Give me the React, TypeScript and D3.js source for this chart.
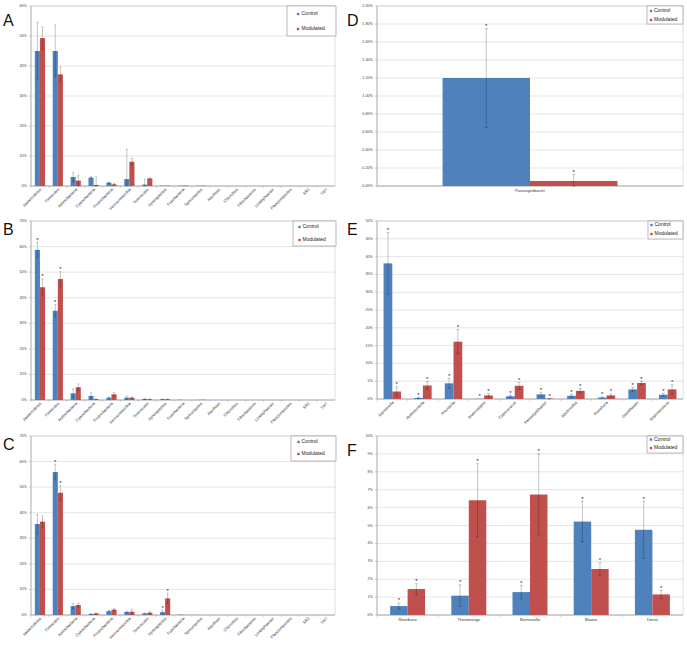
import React from 'react';
import * as d3 from 'd3';

const BLUE = '#4f81bd';
const RED = '#c0504d';
const FONT = 'Liberation Sans, Arial, sans-serif';

const seriesNames = ['Control', 'Modulated'];

// Phylum level (A, B, C)
const phyla = [
  'Bacteroidetes', 'Firmicutes', 'Actinobacteria', 'Cyanobacteria', 'Proteobacteria',
  'Verrucomicrobia', 'Tenericutes', 'Synergistetes', 'Fusobacteria', 'Spirochaetes',
  'Aquificae', 'Chloroflexi', 'Fibrobacteres', 'Lentisphaerae', 'Planctomycetes', 'SR1', 'TM7',
];
const percentTicks70 = [0, 10, 20, 30, 40, 50, 60, 70];
const percentTicks60 = [0, 10, 20, 30, 40, 50, 60];

const aControl = [45, 45, 3.0, 2.8, 1.1, 2.3, 0.45, 0.1, 0.1, 0.05, 0, 0, 0, 0, 0, 0, 0];
const aControlErr = [9.5, 8.7, 1.5, 0.3, 0.25, 10, 1.8, 0, 0, 0, 0, 0, 0, 0, 0, 0, 0];
const aModulated = [49.3, 37.2, 1.8, 0.35, 0.55, 8.1, 2.5, 0.1, 0.15, 0.1, 0, 0, 0, 0, 0, 0, 0];
const aModulatedErr = [3.7, 2.5, 1.8, 2.7, 0.25, 1.1, 0.2, 0, 0, 0, 0, 0, 0, 0, 0, 0, 0];

const bControl = [58.7, 34.9, 2.6, 1.6, 0.9, 0.9, 0.4, 0.3, 0.1, 0.05, 0, 0, 0, 0, 0, 0, 0];
const bControlErr = [3.0, 2.5, 1.7, 1.3, 0.3, 0.6, 0.1, 0.05, 0, 0, 0, 0, 0, 0, 0, 0, 0];
const bModulated = [44.1, 47.3, 5.0, 0.3, 2.2, 0.9, 0.3, 0.3, 0, 0.1, 0, 0, 0, 0, 0, 0, 0];
const bModulatedErr = [3.3, 2.9, 1.3, 0.1, 0.7, 0.3, 0.1, 0.05, 0, 0, 0, 0, 0, 0, 0, 0, 0];
const bControlStar = [true, true, false, false, false, false, false, false, false, false, false, false, false, false, false, false, false];
const bModulatedStar = [true, true, false, false, false, false, false, false, false, false, false, false, false, false, false, false, false];

const cControl = [35.6, 55.9, 3.5, 0.4, 1.5, 1.2, 0.6, 1.1, 0.15, 0.05, 0, 0, 0, 0, 0, 0, 0];
const cControlErr = [3.8, 3.1, 1.0, 0.1, 0.3, 0.3, 0.2, 0.8, 0, 0, 0, 0, 0, 0, 0, 0, 0];
const cModulated = [36.5, 47.8, 3.9, 0.6, 2.1, 1.3, 0.9, 6.5, 0.05, 0, 0, 0, 0, 0, 0, 0, 0];
const cModulatedErr = [2.2, 2.8, 0.8, 0.1, 0.4, 0.9, 0.4, 2.0, 0, 0, 0, 0, 0, 0, 0, 0, 0];
const cControlStar = [false, true, false, false, false, false, false, true, false, false, false, false, false, false, false, false, false];
const cModulatedStar = [false, true, false, false, false, false, false, true, false, false, false, false, false, false, false, false, false];

// D
const dGenera = ['Parasegetibacter'];
const dTicks = [0, 0.2, 0.4, 0.6, 0.8, 1.0, 1.2, 1.4, 1.6, 1.8, 2.0];
const dControl = [1.2];
const dControlErr = [0.55];
const dModulated = [0.056];
const dModulatedErr = [0.075];
const dStar = [true];

// E
const eGenera = [
  'Barnesiella', 'Robinsoniella', 'Prevotella', 'Anaerostipes', 'Coprococcus',
  'Parasegetibacter', 'Bacteroides', 'Roseburia', 'Oscillibacter', 'Anaerotruncus',
];
const eTicks = [0, 5, 10, 15, 20, 25, 30, 35, 40, 45, 50];
const eControl = [38.1, 0.3, 4.4, 0.05, 0.75, 1.3, 0.9, 0.4, 2.7, 1.2];
const eControlErr = [8.7, 0.2, 1.4, 0, 0.3, 0.6, 0.4, 0.2, 0.6, 0.4];
const eModulated = [2.1, 3.8, 16.1, 1.0, 3.7, 0.1, 2.3, 1.0, 4.5, 2.7];
const eModulatedErr = [1.3, 1.1, 3.4, 0.5, 1.0, 0.05, 0.6, 0.4, 0.5, 1.3];
const eStar = [true, true, true, true, true, true, true, true, true, true];

// F
const fGenera = ['Roseburia', 'Thermovirga', 'Barnesiella', 'Blautia', 'Dorea'];
const fTicks = [0, 1, 2, 3, 4, 5, 6, 7, 8, 9, 10];
const fControl = [0.5, 1.08, 1.28, 5.22, 4.76];
const fControlErr = [0.17, 0.6, 0.37, 1.14, 1.6];
const fModulated = [1.45, 6.41, 6.73, 2.57, 1.15];
const fModulatedErr = [0.3, 2.04, 2.27, 0.36, 0.23];
const fStar = [true, true, true, true, true];

type Legend = { x0: number; y0: number; x1: number; y1: number; rows: number[]; markerX: number; textX: number; size: number };

type PanelProps = {
  letter: string;
  letterX: number;
  letterY: number;
  left: number;
  right: number;
  top: number;
  bottom: number;
  ticks: number[];
  fmt: (v: number) => string;
  categories: string[];
  values: number[][];
  errors: number[][];
  stars: boolean[][];
  rotate: boolean;
  capHalf: number;
  legend: Legend;
};

function Panel(p: PanelProps) {
  const yMax = p.ticks[p.ticks.length - 1];
  const y = d3.scaleLinear().domain([0, yMax]).range([p.bottom, p.top]);
  const x = d3
    .scaleBand<string>()
    .domain(p.categories)
    .range([p.left, p.right])
    .paddingInner(0.4286)
    .paddingOuter(0.2143);
  const sub = d3.scaleBand<string>().domain(seriesNames).range([0, x.bandwidth()]);
  const colors = [BLUE, RED];
  const step = x.step();

  return (
    <g fontFamily={FONT}>
      {/* grid */}
      {p.ticks.map((t) => (
        <g key={t}>
          <line x1={p.left} x2={p.right} y1={y(t)} y2={y(t)} stroke="#d4d4d4" strokeWidth={0.6} />
          <line x1={p.left - 2} x2={p.left} y1={y(t)} y2={y(t)} stroke="#999" strokeWidth={0.5} />
          <text x={p.left - 4} y={y(t)} fontSize={3.8} fill="#444" textAnchor="end" dominantBaseline="middle">
            {p.fmt(t)}
          </text>
        </g>
      ))}
      <rect x={p.left} y={p.top} width={p.right - p.left} height={p.bottom - p.top} fill="none" stroke="#bdbdbd" strokeWidth={0.5} />
      <line x1={p.left} x2={p.left} y1={p.top} y2={p.bottom} stroke="#9a9a9a" strokeWidth={0.6} />
      <line x1={p.left} x2={p.right} y1={p.bottom} y2={p.bottom} stroke="#9a9a9a" strokeWidth={0.6} />
      {p.categories.map((c, i) => (
        <line key={'tk' + i} x1={x(c)! - (step - x.bandwidth()) / 2} x2={x(c)! - (step - x.bandwidth()) / 2} y1={p.bottom} y2={p.bottom + 2} stroke="#aaa" strokeWidth={0.5} />
      ))}

      {/* bars */}
      {p.categories.map((c, i) => (
        <g key={c}>
          {seriesNames.map((s, k) => {
            const v = p.values[k][i];
            const e = p.errors[k][i];
            const bx = x(c)! + sub(s)!;
            const cx = bx + sub.bandwidth() / 2;
            const hi = y(v + e);
            const lo = y(Math.max(0, v - e));
            return (
              <g key={s}>
                {v > 0 && (
                  <rect x={bx} y={y(v)} width={sub.bandwidth()} height={p.bottom - y(v)} fill={colors[k]} />
                )}
                {e > 0 && (
                  <g stroke="#000" strokeOpacity={0.32} strokeWidth={0.7}>
                    <line x1={cx} x2={cx} y1={hi} y2={lo} />
                    <line x1={cx - p.capHalf} x2={cx + p.capHalf} y1={hi} y2={hi} />
                    <line x1={cx - p.capHalf} x2={cx + p.capHalf} y1={lo} y2={lo} />
                  </g>
                )}
                {p.stars[k][i] && (
                  <text x={cx} y={hi - 0.6} fontSize={6} textAnchor="middle" fill="#222">
                    *
                  </text>
                )}
              </g>
            );
          })}
        </g>
      ))}

      {/* category labels */}
      {p.categories.map((c) => {
        const cx = x(c)! + x.bandwidth() / 2;
        return p.rotate ? (
          <text
            key={'l' + c}
            transform={`translate(${cx + 1},${p.bottom + 3}) rotate(-45)`}
            fontSize={4}
            fill="#333"
            textAnchor="end"
            dominantBaseline="middle"
          >
            {c}
          </text>
        ) : (
          <text key={'l' + c} x={cx} y={p.bottom + 6} fontSize={4} fill="#333" textAnchor="middle">
            {c}
          </text>
        );
      })}

      {/* legend */}
      <rect
        x={p.legend.x0}
        y={p.legend.y0}
        width={p.legend.x1 - p.legend.x0}
        height={p.legend.y1 - p.legend.y0}
        fill="#fff"
        stroke="#8c8c8c"
        strokeWidth={0.6}
      />
      {seriesNames.map((s, k) => (
        <g key={'lg' + s}>
          <rect x={p.legend.markerX - 1.2} y={p.legend.rows[k] - 1.2} width={2.4} height={2.4} fill={colors[k]} />
          <text x={p.legend.textX} y={p.legend.rows[k]} fontSize={p.legend.size} fill="#222" dominantBaseline="middle">
            {s}
          </text>
        </g>
      ))}

      <text x={p.letterX} y={p.letterY} fontSize={16} fill="#111">
        {p.letter}
      </text>
    </g>
  );
}

const pct0 = (v: number) => `${v}%`;
const pct2 = (v: number) => `${v.toFixed(2)}%`;

export default function App() {
  return (
    <svg width={687} height={647} style={{ position: 'absolute', left: 0, top: 0, background: '#fff' }}>
      <rect x={0} y={0} width={687} height={647} fill="#fff" />
      <Panel
        letter="A" letterX={3} letterY={26}
        left={31} right={335} top={6} bottom={186}
        ticks={percentTicks60} fmt={pct0}
        categories={phyla}
        values={[aControl, aModulated]} errors={[aControlErr, aModulatedErr]}
        stars={[phyla.map(() => false), phyla.map(() => false)]}
        rotate capHalf={1}
        legend={{ x0: 287, y0: 6, x1: 336, y1: 36, rows: [14, 29], markerX: 298, textX: 301.5, size: 5 }}
      />
      <Panel
        letter="B" letterX={3} letterY={235}
        left={31} right={335} top={221} bottom={400}
        ticks={percentTicks70} fmt={pct0}
        categories={phyla}
        values={[bControl, bModulated]} errors={[bControlErr, bModulatedErr]}
        stars={[bControlStar, bModulatedStar]}
        rotate capHalf={1}
        legend={{ x0: 293, y0: 221, x1: 336, y1: 246, rows: [227, 240], markerX: 299.5, textX: 302.5, size: 5 }}
      />
      <Panel
        letter="C" letterX={3} letterY={450}
        left={31} right={335} top={436} bottom={615}
        ticks={percentTicks70} fmt={pct0}
        categories={phyla}
        values={[cControl, cModulated]} errors={[cControlErr, cModulatedErr]}
        stars={[cControlStar, cModulatedStar]}
        rotate capHalf={1}
        legend={{ x0: 291, y0: 436, x1: 336, y1: 461, rows: [442, 454], markerX: 298.5, textX: 301.5, size: 5 }}
      />
      <Panel
        letter="D" letterX={347} letterY={26}
        left={377} right={683} top={6} bottom={186}
        ticks={dTicks} fmt={pct2}
        categories={dGenera}
        values={[dControl, dModulated]} errors={[dControlErr, dModulatedErr]}
        stars={[dStar, dStar]}
        rotate={false} capHalf={1.5}
        legend={{ x0: 647, y0: 6, x1: 683, y1: 24, rows: [11, 20], markerX: 651, textX: 654, size: 5 }}
      />
      <Panel
        letter="E" letterX={347} letterY={235}
        left={377} right={683} top={221} bottom={399}
        ticks={eTicks} fmt={pct0}
        categories={eGenera}
        values={[eControl, eModulated]} errors={[eControlErr, eModulatedErr]}
        stars={[eStar, eStar]}
        rotate capHalf={1.5}
        legend={{ x0: 648, y0: 221, x1: 683, y1: 239, rows: [225, 234], markerX: 651.5, textX: 654.5, size: 5 }}
      />
      <Panel
        letter="F" letterX={347} letterY={456}
        left={377} right={683} top={436} bottom={615}
        ticks={fTicks} fmt={pct0}
        categories={fGenera}
        values={[fControl, fModulated]} errors={[fControlErr, fModulatedErr]}
        stars={[fStar, fStar]}
        rotate={false} capHalf={1.5}
        legend={{ x0: 647, y0: 436, x1: 683, y1: 453, rows: [439.5, 448], markerX: 651, textX: 654, size: 5 }}
      />
    </svg>
  );
}
